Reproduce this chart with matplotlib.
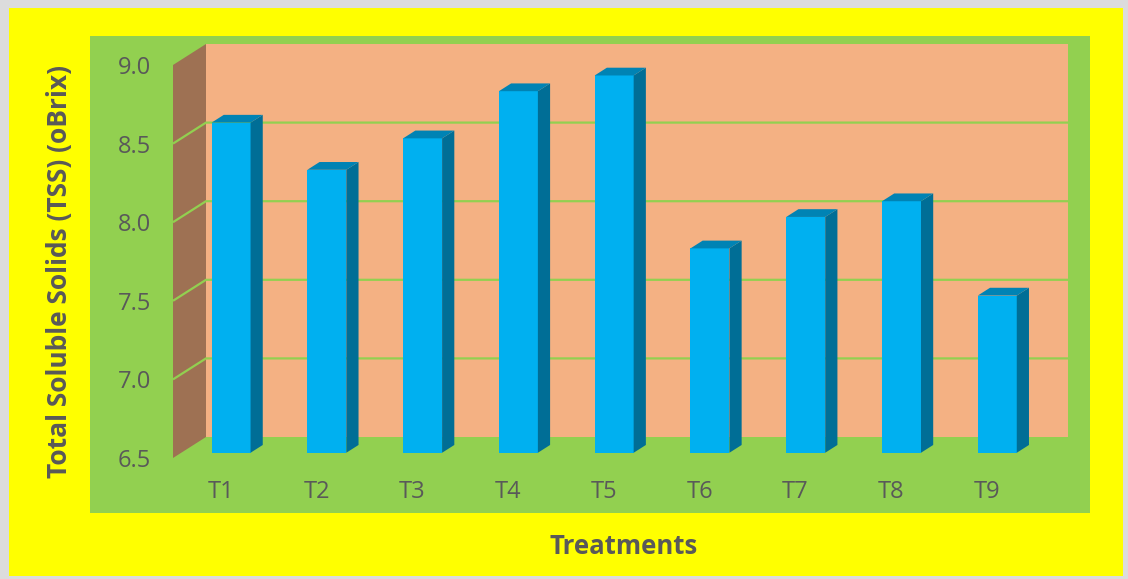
import numpy as np
import matplotlib
matplotlib.use("Agg")
import matplotlib.pyplot as plt
from matplotlib.patches import Polygon, Rectangle

plt.rcParams['font.family'] = ['Open Sans', 'DejaVu Sans']

# data
treatments = ['T1', 'T2', 'T3', 'T4', 'T5', 'T6', 'T7', 'T8', 'T9']
tss = [8.6, 8.3, 8.5, 8.8, 8.9, 7.8, 8.0, 8.1, 7.5]
y_ticks = [6.5, 7.0, 7.5, 8.0, 8.5, 9.0]
y_min, y_max = 6.5, 9.0

# colours
outer_grey = '#DCDCDC'
yellow = '#FFFF00'
green = '#92D050'
wall_back = '#F4B183'
wall_side = '#9E7153'
bar_front = '#00B0F0'
bar_side = '#006E96'
bar_top = '#0083B4'
txt = '#595959'

W, H = 1128, 579
fig = plt.figure(figsize=(W / 100, H / 100), dpi=100, facecolor=outer_grey)

# yellow background and green chart area
fig.patches.append(Rectangle((9 / W, 3 / H), 1114 / W, 568 / H, transform=fig.transFigure,
                             facecolor=yellow, edgecolor='none', zorder=-2))
fig.patches.append(Rectangle((90 / W, (H - 513) / H), 1000 / W, 477 / H, transform=fig.transFigure,
                             facecolor=green, edgecolor='none', zorder=-1))

ax = fig.add_axes([173 / W, (H - 458) / H, 862 / W, 393 / H])
ax.set_zorder(2)
ax.set_facecolor('none')
n = len(treatments)
ax.set_xlim(0, n)
ax.set_ylim(y_min, y_max)
for s in ax.spines.values():
    s.set_visible(False)

# depth offset of the back wall, in data units
DX = 33 / (862 / n)
DY = 21 / (393 / (y_max - y_min))


def proj(x, y, d):
    return (x + d * DX, y + d * DY)


def poly(pts, color, z):
    ax.add_patch(Polygon(pts, closed=True, facecolor=color, edgecolor='none',
                         zorder=z, clip_on=False))


# walls
poly([proj(0, y_min, 1), proj(n, y_min, 1), proj(n, y_max, 1), proj(0, y_max, 1)], wall_back, 1)
poly([proj(0, y_min, 0), proj(0, y_min, 1), proj(0, y_max, 1), proj(0, y_max, 0)], wall_side, 1)

# gridlines on back and side walls
for v in y_ticks[1:-1]:
    xs, ys = zip(proj(0, v, 0), proj(0, v, 1), proj(n, v, 1))
    ax.plot(xs, ys, color=green, lw=1.6, zorder=2, clip_on=False, solid_capstyle='butt')

# 3d bars: front face at depth f0, bar is `depth` deep
f0, depth, bw = 0.25, 0.37, 0.407
xc = np.arange(n) + 0.5 + 0.02
ax.bar(xc + f0 * DX, np.array(tss) - y_min, bottom=y_min + f0 * DY, width=bw,
       color=bar_front, zorder=4, linewidth=0)
for x, v in zip(xc, tss):
    x0, x1 = x - bw / 2, x + bw / 2
    poly([proj(x1, y_min, f0), proj(x1, y_min, f0 + depth),
          proj(x1, v, f0 + depth), proj(x1, v, f0)], bar_side, 4)
    poly([proj(x0, v, f0), proj(x1, v, f0),
          proj(x1, v, f0 + depth), proj(x0, v, f0 + depth)], bar_top, 4)

ax.set_xticks(np.arange(n) + 0.5)
ax.set_xticklabels(treatments)
ax.set_yticks(y_ticks)
ax.set_yticklabels([f'{t:.1f}' for t in y_ticks])
ax.tick_params(axis='x', length=0, pad=16, labelsize=17, labelcolor=txt)
ax.tick_params(axis='y', length=0, pad=16, labelsize=17, labelcolor=txt)

fig.text(60 / W, 1 - 271 / H, 'Total Soluble Solids (TSS) (oBrix)', rotation=90,
         ha='center', va='center', fontsize=19, fontweight='bold', color=txt)
fig.text(624 / W, 1 - 546 / H, 'Treatments', ha='center', va='center',
         fontsize=18.5, fontweight='bold', color=txt)

fig.savefig('out.png', dpi=100, facecolor=fig.get_facecolor())
